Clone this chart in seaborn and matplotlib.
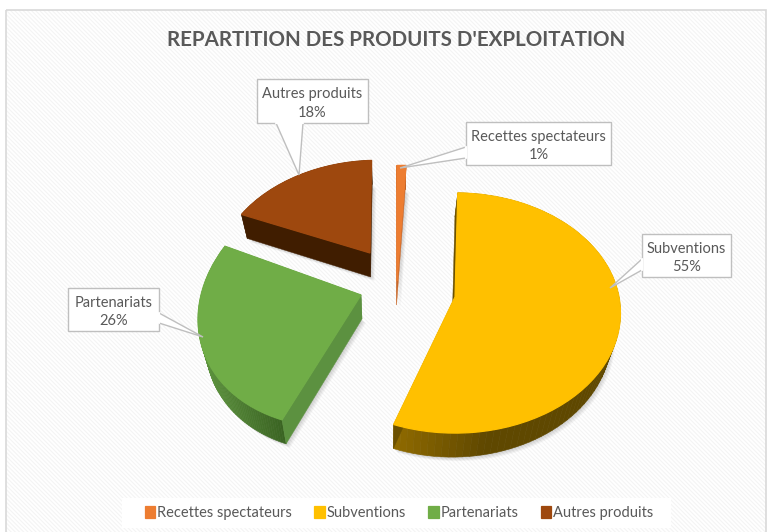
import numpy as np
import matplotlib
matplotlib.use("Agg")
import matplotlib.pyplot as plt
import seaborn as sns
from matplotlib.colors import to_rgb
from matplotlib.patches import Rectangle, Polygon
from matplotlib.transforms import Transform

sns.set_theme(style="white")
plt.rcParams['font.family'] = ['Lato', 'DejaVu Sans']
plt.rcParams['hatch.linewidth'] = 0.8

# data
title = "REPARTITION DES PRODUITS D'EXPLOITATION"
categories = ["Recettes spectateurs", "Subventions", "Partenariats", "Autres produits"]
shares = [1, 55, 26, 18]
colors = sns.color_palette(["#ED7D31", "#FFC000", "#70AD47", "#9E480E"])

TEXT_COL = "#595959"
LINE_COL = "#BFBFBF"
DEPTH = 24

# how each exploded slice sits on the page: apex x, apex y, radius x, radius y, perspective, shear
slice_view = [
    (397, 281, 164, 131, 0.133, 0.054),
    (455, 297, 164, 118, 0.133, 0.0),
    (361, 295, 160, 128, 0.033, 0.20),
    (370, 253, 150, 105, 0.133, 0.08),
]
# side shading: curved side left, curved side right, flat cut face
side_cols = [
    ("#B85F24", "#B85F24", "#C9682A"),
    ("#8F6A00", "#5F4800", "#6B5000"),
    ("#5F9640", "#3A6322", "#5C9140"),
    ("#401D00", "#401D00", "#401D00"),
]
# label boxes: left, top, right, bottom, tail start A, tail start B, tail tip
label_boxes = [
    (466, 122, 611, 165, (466, 147), (466, 158), (400, 168)),
    (642, 234, 731, 277, (642, 259), (642, 270), (610, 288)),
    (68, 288, 159, 331, (159, 313), (159, 323), (203, 337)),
    (257, 79, 368, 123, (276, 123), (303, 123), (299, 175)),
]


class SliceView(Transform):
    # tilted view of the unit pie, output in page pixels
    input_dims = 2
    output_dims = 2

    def __init__(self, cx, cy, rx, ry, persp, shear):
        super().__init__()
        self.view = (cx, cy, rx, ry, persp, shear)

    def transform_non_affine(self, values):
        cx, cy, rx, ry, persp, shear = self.view
        values = np.asarray(values, dtype=float)
        d = 1 + persp * values[:, 1]
        yy = ry * values[:, 1] / d
        xx = rx * values[:, 0] / d + shear * yy
        return np.column_stack([cx + xx, cy - yy])


def lower(points):
    # the bottom of the slab, pulled a little towards the vanishing point
    points = np.asarray(points)
    return np.column_stack([points[:, 0] + 0.04 * (386 - points[:, 0]), points[:, 1] + DEPTH])


def mix(c1, c2, t):
    return tuple(np.array(to_rgb(c1)) * (1 - t) + np.array(to_rgb(c2)) * t)


fig = plt.figure(figsize=(7.72, 5.32), dpi=100, facecolor="white")
ax = fig.add_axes([0, 0, 1, 1])

wedges, _ = ax.pie(shares, colors=colors, startangle=92.5, counterclock=False)
ax.set_aspect("auto")
ax.set_xlim(0, 772)
ax.set_ylim(532, 0)
ax.axis("off")

# chart area with its diagonal stripes
ax.add_patch(Rectangle((6, 10), 760, 530, facecolor="white", edgecolor="#F4F4F4",
                       hatch="\\\\\\\\\\\\\\\\", linewidth=0, zorder=0))
ax.add_patch(Rectangle((6, 10), 760, 530, facecolor="none", edgecolor="#D9D9D9",
                       linewidth=1.2, zorder=0.5))

for wedge, view, sides in zip(wedges, slice_view, side_cols):
    tr = SliceView(*view)
    wedge.set_transform(tr + ax.transData)
    wedge.set_zorder(5)
    # own colour edge so the dark side does not peek out round the rim
    wedge.set_edgecolor(wedge.get_facecolor())
    wedge.set_linewidth(0.9)

    # outline of the slice on the page
    th = np.radians(np.linspace(wedge.theta1, wedge.theta2, 90))
    rim = tr.transform_non_affine(np.column_stack([np.cos(th), np.sin(th)]))
    rim_low = lower(rim)
    apex = np.array([[view[0], view[1]]], dtype=float)
    apex_low = lower(apex)

    # soft shadow under the slab
    outline = np.vstack([apex_low, rim_low])
    for k in range(1, 6):
        ax.add_patch(Polygon(outline + [k * 0.8, k * 0.8], closed=True, facecolor="black",
                             alpha=0.035, linewidth=0, zorder=1))

    # curved side, in short strips
    left, right = rim[:, 0].min(), rim[:, 0].max()
    span = min(right, left + 90) - left
    for i in range(len(rim) - 1):
        t = np.clip((rim[i, 0] - left) / max(span, 1), 0, 1)
        quad = np.vstack([rim[i:i + 2], rim_low[i:i + 2][::-1]])
        ax.add_patch(Polygon(quad, closed=True, facecolor=mix(sides[0], sides[1], t),
                             edgecolor=mix(sides[0], sides[1], t), linewidth=0.4, zorder=3))

    # the two flat cut faces
    for end in (rim[:1], rim[-1:]):
        face = np.vstack([apex, end, lower(end), apex_low])
        ax.add_patch(Polygon(face, closed=True, facecolor=sides[2], edgecolor=sides[2],
                             linewidth=0.3, zorder=4))

# title
ax.text(396, 40, title, ha="center", va="center", fontsize=14.8, fontweight="bold",
        color=TEXT_COL, zorder=10)

# data labels with their callout tails
for name, share, box in zip(categories, shares, label_boxes):
    x0, y0, x1, y1, a, b, tip = box
    ax.add_patch(Rectangle((x0, y0), x1 - x0, y1 - y0, facecolor="white",
                           edgecolor=LINE_COL, linewidth=1.0, zorder=8))
    ax.add_patch(Polygon([a, tip, b], closed=True, facecolor="white", edgecolor=LINE_COL,
                         linewidth=1.0, zorder=8))
    # hide the box border where the tail joins it
    ax.plot([a[0], b[0]], [a[1], b[1]], color="white", linewidth=1.6, zorder=8.5)
    ax.text((x0 + x1) / 2, (y0 + y1) / 2 + 2.5, f"{name}\n{share}%", ha="center", va="center",
            fontsize=10.5, color=TEXT_COL, linespacing=1.42, zorder=9)

# legend on its white band
ax.add_patch(Rectangle((122, 498), 549, 30, facecolor="white", linewidth=0, zorder=9))
leg = ax.legend(wedges, categories, loc="center", bbox_to_anchor=(399, 513),
                bbox_transform=ax.transData, ncol=4, frameon=False, fontsize=10.5,
                labelcolor=TEXT_COL, handlelength=0.72, handleheight=0.8,
                handletextpad=0.1, columnspacing=1.55)
leg.set_zorder(10)

fig.savefig("out.png", dpi=100)
